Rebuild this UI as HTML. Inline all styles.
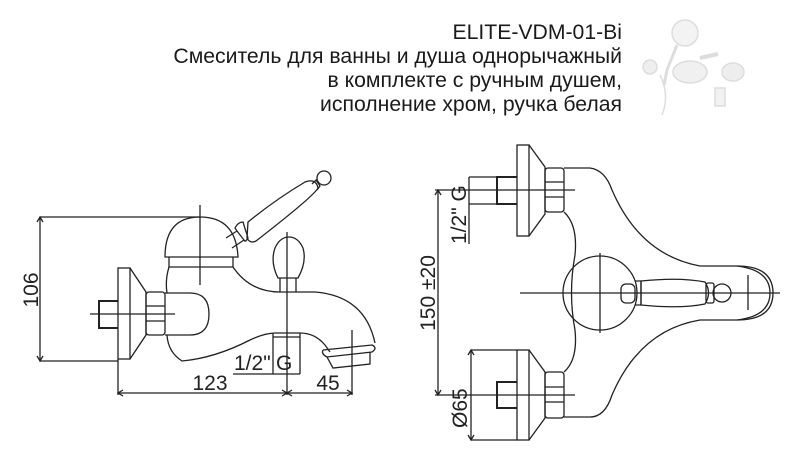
<!DOCTYPE html>
<html><head><meta charset="utf-8"><style>
html,body{margin:0;padding:0;background:#fff;}
svg{display:block;}
</style></head><body>
<svg width="800" height="461" viewBox="0 0 800 461" xmlns="http://www.w3.org/2000/svg" font-family="Liberation Sans, sans-serif">
<g font-size="21.2" fill="#1a1a1a" text-anchor="end">
<text x="622" y="39">ELITE-VDM-01-Bi</text>
<text x="622" y="63">Смеситель для ванны и душа однорычажный</text>
<text x="622" y="87">в комплекте с ручным душем,</text>
<text x="622" y="111">исполнение хром, ручка белая</text>
</g>
<!-- photo -->
<g fill="none" stroke="#ddd" stroke-width="1.5">
<circle cx="685" cy="33" r="13" fill="#f3f3f3"/>
<path d="M677 45 L667 70 L664 85" stroke-width="3"/>
<circle cx="650" cy="67" r="7" fill="#eee"/>
<path d="M660 75 Q670 95 662 115"/>
<ellipse cx="690" cy="72" rx="17" ry="11" fill="#f0f0f0"/>
<ellipse cx="733" cy="72" rx="11" ry="9" fill="#eee"/>
<path d="M700 58 L718 54" stroke-width="4"/>
<rect x="715" y="88" width="10" height="18" fill="#f2f2f2"/>
</g>
<g fill="none" stroke="#222" stroke-width="1.3">
<!-- LEFT DRAWING -->
<path d="M40 217 V361 M40 217 H200 M40 361 H118"/>
<path d="M37 222 L40 217 L43 222 M37 356 L40 361 L43 356"/>
<rect x="118" y="268" width="12" height="91"/>
<path d="M130 268 L146 292 V335 L130 359"/>
<rect x="146" y="292" width="19" height="43" rx="3"/>
<path d="M146 306 H165 M146 321 H165"/>
<path d="M118 301 H99 V328 H118" stroke-width="2"/>
<path d="M90 314 H175"/>
<path d="M165 293 H190 Q209 293 209 314 Q209 335 190 335 H165"/>
<path d="M165 257 Q165 217 200 217 Q236 217 238 257 Z"/>
<path d="M169 257 V267 H233 V257"/>
<path d="M200 205 V285"/>
<path d="M169 267 Q165 280 167 293 M167 335 Q168 352 182 361 Q215 358 250 340 Q265 333 275 333 H300 Q315 333 325 345 L330 352"/>
<path d="M233 267 Q250 292 280 292 H315 Q365 296 375 343"/>
<path d="M323 350 L372 345 Q378 348 372 352 L327 357 Q321 354 323 350"/>
<path d="M327 357 L333 368 L370 364 L370 352"/>
<!-- lever -->
<path d="M226 238 L237 231 M232 248 L244 240"/>
<path d="M237 231 L235 228 Q238 222 243 222 L248 238 Q245 243 244 240 Z"/>
<path d="M248 222 Q275 200 305 182 Q316 178 318 188 Q314 196 256 241 Q250 244 247 238 Z"/>
<circle cx="324" cy="178" r="7"/>
<path d="M312 184 L316 180 L320 186 L317 190"/>
<!-- diverter knob -->
<path d="M278 278 Q270 262 275 248 Q280 237 289 237 Q298 237 303 248 Q307 262 298 278 Z"/>
<path d="M280 278 V292 M296 278 V292"/>
<path d="M287 232 V395"/>
<path d="M273 333 V374 M300 333 V374 M273 337 H300 M233 374 H300"/>
<path d="M118 359 V395 M352 330 L352 395 M118 393 H352"/>
<path d="M123 390 L118 393 L123 396 M282 390 L287 393 L282 396 M292 390 L287 393 L292 396 M347 390 L352 393 L347 396"/>
<!-- RIGHT DRAWING -->
<rect x="517" y="145" width="12" height="91"/>
<path d="M529 145 L545 167 V214 L529 236"/>
<rect x="545" y="168" width="19" height="44" rx="3"/>
<path d="M545 182 H564 M545 197 H564"/>
<path d="M517 177 H497 V204 H517" stroke-width="2"/>
<path d="M470 190 H575"/>
<rect x="517" y="350" width="12" height="90"/>
<path d="M529 350 L545 372 V418 L529 440"/>
<rect x="545" y="372" width="19" height="46" rx="3"/>
<path d="M545 387 H564 M545 402 H564"/>
<path d="M517 382 H497 V408 H517" stroke-width="2"/>
<path d="M470 395 H575"/>
<path d="M564 168 H590 Q605 170 612 190 Q640 255 700 266 H737 Q773 266 773 293 Q773 320 737 320 H700 Q640 330 612 395 Q605 417 590 417 H564"/>
<path d="M737 266 Q770 270 770 293 Q770 316 737 320"/>
<path d="M564 212 Q578 225 575 255 Q568 293 575 330 Q578 360 564 372"/>
<circle cx="600" cy="293" r="37"/>
<path d="M520 293 H780 M600 253 V333 M748 275 V310"/>
<rect x="621" y="284" width="14" height="19" rx="5"/>
<path d="M635 281 H641 V305 H635"/>
<path d="M641 281 Q680 277 705 282 Q712 293 705 304 Q680 309 641 305 Z"/>
<rect x="706" y="283" width="8" height="20" rx="2"/>
<circle cx="722" cy="293" r="9"/>
<path d="M438 190 V395 M435 190 H470 M435 395 H470"/>
<path d="M435 195 L438 190 L441 195 M435 390 L438 395 L441 390"/>
<path d="M469 177 V244 M469 177 H497 M469 204 H497"/>
<path d="M471 350 V440 M471 350 H517 M471 440 H517"/>
<path d="M468 355 L471 350 L474 355 M468 435 L471 440 L474 435"/>
</g>
<g font-size="21" fill="#222">
<text transform="translate(38 290) rotate(-90)" text-anchor="middle">106</text>
<text x="210" y="390" text-anchor="middle">123</text>
<text x="328" y="390" text-anchor="middle">45</text>
<text x="234" y="370">1/2"</text>
<text x="276" y="370">G</text>
<text transform="translate(435 293) rotate(-90)" text-anchor="middle">150 ±20</text>
<text transform="translate(466 244) rotate(-90)">1/2" G</text>
<text transform="translate(467 428) rotate(-90)">Ø65</text>
</g>
</svg>
</body></html>
